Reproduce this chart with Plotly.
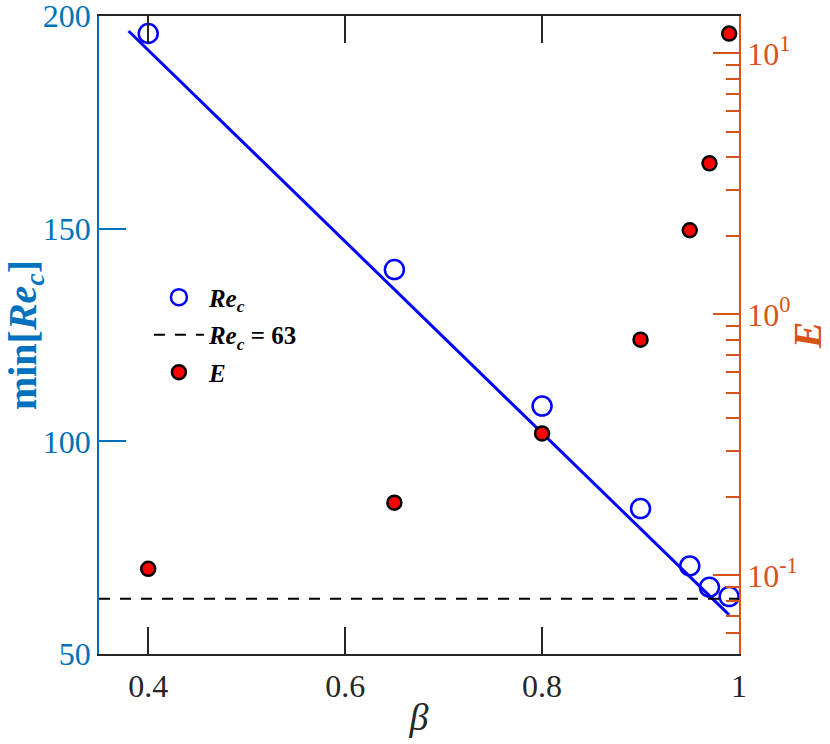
import plotly.graph_objects as go

# ---- data ----
beta = [0.4, 0.65, 0.8, 0.9, 0.95, 0.97, 0.99]
re_c = [195.9, 140.4, 108.3, 84.2, 70.7, 65.7, 63.5]
energy = [0.106, 0.19, 0.35, 0.80, 2.10, 3.79, 11.9]
fit_beta = [0.38, 0.99]
fit_re = [196.5, 59.2]
ref_beta = [0.35, 1.0]
ref_re = [63, 63]

x_ticks = [0.4, 0.6, 0.8, 1.0]
x_ticktext = ["0.4", "0.6", "0.8", "1"]
y_ticks = [50, 100, 150, 200]
y2_ticks = [0.1, 1, 10]
y2_ticktext = ["10<sup>-1</sup>", "10<sup>0</sup>", "10<sup>1</sup>"]
y2_minor = [0.05, 0.06, 0.07, 0.08, 0.09,
            0.2, 0.3, 0.4, 0.5, 0.6, 0.7, 0.8, 0.9,
            2, 3, 4, 5, 6, 7, 8, 9]

BLUE_AX = "#0072BD"
ORANGE_AX = "#D95319"
DARK = "#262626"
FONT = "Liberation Serif"

fig = go.Figure()

fig.add_trace(go.Scatter(
    x=fit_beta, y=fit_re, mode="lines",
    line=dict(color="#0000FF", width=3),
    showlegend=False, hoverinfo="skip"))

fig.add_trace(go.Scatter(
    x=beta, y=re_c, mode="markers",
    marker=dict(symbol="circle-open", size=19, color="#0000FF",
                line=dict(width=2.5, color="#0000FF")),
    name="<b><i>Re</i><sub><i>c</i></sub></b>", legendgroup="a"))

fig.add_trace(go.Scatter(
    x=ref_beta, y=ref_re, mode="lines",
    line=dict(color="black", width=2, dash="11px,10px"),
    name="<b><i>Re</i><sub><i>c</i></sub> = 63</b>", legendgroup="b"))

fig.add_trace(go.Scatter(
    x=beta, y=energy, mode="markers", yaxis="y2",
    marker=dict(symbol="circle", size=14, color="#FF0000",
                line=dict(width=2.5, color="black")),
    name="<b><i>E</i></b>", legendgroup="c"))

fig.update_layout(
    width=830, height=744,
    margin=dict(l=99, r=91, t=16, b=90, autoexpand=False),
    paper_bgcolor="white", plot_bgcolor="white",
    font=dict(family=FONT, size=32, color=DARK),
    xaxis=dict(
        range=[0.35, 1.0], tickvals=x_ticks, ticktext=x_ticktext,
        ticks="inside", ticklen=27, tickwidth=1.5, tickcolor=DARK,
        showline=True, linecolor=DARK, linewidth=1.5, mirror="ticks",
        showgrid=False, zeroline=False, automargin=False,
        ticklabeloverflow="allow",
        tickfont=dict(family=FONT, size=32, color=DARK),
        ticklabelstandoff=3,
        title=dict(text="<i>β</i>", font=dict(family=FONT, size=38, color=DARK),
                   standoff=0),
    ),
    yaxis=dict(
        range=[50, 200.02], tickvals=y_ticks,
        ticks="inside", ticklen=27, tickwidth=1.5, tickcolor=BLUE_AX,
        showline=True, linecolor=BLUE_AX, linewidth=1.5,
        showgrid=False, zeroline=False, automargin=False,
        ticklabeloverflow="allow",
        tickfont=dict(family=FONT, size=32, color=BLUE_AX),
        title=dict(text="<b>min[<i>Re</i><sub><i>c</i></sub>]</b>",
                   font=dict(family=FONT, size=40, color=BLUE_AX), standoff=2),
    ),
    yaxis2=dict(
        type="log", overlaying="y", side="right",
        range=[-1.30103, 1.143],
        tickvals=y2_ticks, ticktext=y2_ticktext,
        ticks="inside", ticklen=26, tickwidth=1.5, tickcolor=ORANGE_AX,
        minor=dict(tickmode="array", tickvals=y2_minor, ticks="inside",
                   ticklen=13, tickwidth=1.5, tickcolor=ORANGE_AX, showgrid=False),
        showline=True, linecolor=ORANGE_AX, linewidth=1.5,
        showgrid=False, zeroline=False, automargin=False,
        ticklabeloverflow="allow",
        tickfont=dict(family=FONT, size=32, color=ORANGE_AX),
        title=dict(text="<b><i>E</i></b>",
                   font=dict(family=FONT, size=40, color=ORANGE_AX), standoff=0),
    ),
    legend=dict(
        x=0.078, y=0.595, xanchor="left", yanchor="top",
        bgcolor="rgba(0,0,0,0)", borderwidth=0,
        font=dict(family=FONT, size=25, color="black"),
        itemwidth=50, traceorder="grouped", tracegroupgap=2,
    ),
)

fig.write_html("out.html",
               config={"displayModeBar": False},
               post_script="document.body.style.margin='0';document.body.style.padding='0';")
